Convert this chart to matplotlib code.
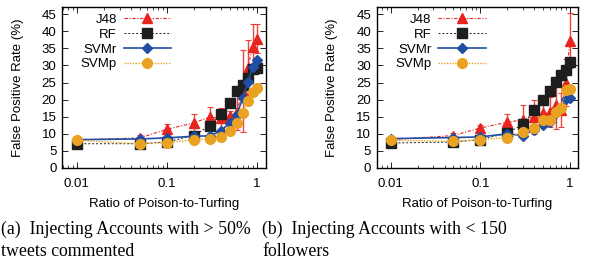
import matplotlib
matplotlib.use("Agg")
import matplotlib.pyplot as plt
from matplotlib.ticker import NullFormatter, LogLocator

plt.rcParams['font.family'] = ['Liberation Sans', 'DejaVu Sans']

ratios = [0.01, 0.05, 0.1, 0.2, 0.3, 0.4, 0.5, 0.6, 0.7, 0.8, 0.9, 1.0]

# Panel (a): injecting accounts with > 50% tweets commented
a_j48 = [8.2, 8.8, 11.3, 13.2, 14.9, 14.5, 15.2, 16.5, 22.5, 29.3, 35.5, 37.8]
a_j48_err = [0.5, 1.0, 1.5, 2.7, 2.8, 3.0, 1.5, 5.5, 12.0, 8.0, 6.5, 4.2]
a_rf = [7.1, 7.1, 7.6, 9.5, 12.3, 15.7, 18.9, 22.5, 24.3, 26.4, 28.9, 29.2]
a_svmr = [8.3, 8.5, 8.8, 9.3, 9.4, 10.8, 13.2, 15.4, 20.5, 25.2, 29.5, 31.5]
a_svmp = [8.1, 7.1, 7.4, 8.3, 8.6, 9.1, 10.8, 13.1, 16.2, 19.5, 22.2, 23.4]

# Panel (b): injecting accounts with < 150 followers
b_j48 = [8.3, 9.5, 11.7, 13.4, 14.1, 15.0, 16.1, 16.4, 18.3, 17.0, 25.0, 37.2]
b_j48_err = [0.5, 0.8, 1.0, 2.5, 4.3, 5.0, 3.0, 4.5, 7.0, 5.0, 6.8, 8.0]
b_rf = [7.3, 7.6, 8.3, 10.2, 12.8, 17.0, 19.8, 22.5, 25.3, 27.1, 28.7, 31.0]
b_svmr = [8.6, 8.9, 9.1, 10.0, 9.5, 11.2, 12.5, 13.6, 16.1, 17.6, 20.3, 20.4]
b_svmp = [8.1, 7.8, 8.3, 8.9, 10.5, 11.7, 13.9, 14.1, 16.4, 17.6, 22.7, 23.2]

labels = ['J48', 'RF', 'SVMr', 'SVMp']
yticks = [0, 5, 10, 15, 20, 25, 30, 35, 40, 45]
xticks = [0.01, 0.1, 1]
xticklabels = ['0.01', '0.1', '1']
captions = [('(a)  Injecting Accounts with > 50%', 'tweets commented'),
            ('(b)  Injecting Accounts with < 150', 'followers')]

RED = '#e8241f'
BLACK = '#1e1e1e'
BLUE = '#1f4ea3'
ORANGE = '#e9a222'
FS = 9.5

fig = plt.figure(figsize=(6.11, 2.71), dpi=100)
axes_pos = [[62/611, 1-168/271, 204/611, 161/271],
            [376.7/611, 1-168/271, 201.3/611, 161/271]]
xlims = [(0.00687, 1.27), (0.00698, 1.23)]
data = [(a_j48, a_j48_err, a_rf, a_svmr, a_svmp),
        (b_j48, b_j48_err, b_rf, b_svmr, b_svmp)]
cap_x = [0.001, 262/611]

for i in range(2):
    ax = fig.add_axes(axes_pos[i])
    j48, j48e, rf, svmr, svmp = data[i]
    ax.errorbar(ratios, j48, yerr=j48e, fmt='none', ecolor=RED, elinewidth=1.0,
                capsize=2, capthick=0.8, alpha=0.85, zorder=2)
    l1, = ax.plot(ratios, j48, color=RED, linestyle=(0, (3, 1.5, 1, 1.5)), linewidth=0.8,
                  marker='^', markersize=6.5, label=labels[0], zorder=3)
    l2, = ax.plot(ratios, rf, color=BLACK, linestyle=(0, (2, 2)), linewidth=0.7,
                  marker='s', markersize=6.5, label=labels[1], zorder=4)
    l3, = ax.plot(ratios, svmr, color=BLUE, linestyle='-', linewidth=1.2,
                  marker='D', markersize=5.0, label=labels[2], zorder=5)
    l4, = ax.plot(ratios, svmp, color=ORANGE, linestyle=(0, (1, 1)), linewidth=1.0,
                  marker='o', markersize=7.0, label=labels[3], zorder=6)
    ax.set_xscale('log')
    ax.set_xlim(*xlims[i])
    ax.set_ylim(0, 47.1)
    ax.set_yticks(yticks)
    ax.set_xticks(xticks)
    ax.set_xticklabels(xticklabels)
    ax.xaxis.set_minor_locator(LogLocator(base=10, subs=range(2, 10)))
    ax.xaxis.set_minor_formatter(NullFormatter())
    ax.tick_params(which='both', direction='in', top=True, right=True,
                   labelsize=FS)
    ax.tick_params(axis='y', pad=4)
    ax.tick_params(axis='x', pad=7)
    ax.tick_params(which='major', length=4, width=0.6)
    ax.tick_params(which='minor', length=2, width=0.5)
    for s in ax.spines.values():
        s.set_linewidth(1.0)
    ax.set_ylabel('False Positive Rate (%)', fontsize=FS, labelpad=13)
    ax.set_xlabel('Ratio of Poison-to-Turfing', fontsize=FS, labelpad=6)
    leg = ax.legend(handles=[l1, l2, l3, l4], loc='upper left', markerfirst=False,
                    frameon=False, fontsize=FS, handlelength=3.6, handletextpad=0.5,
                    labelspacing=0.2, borderaxespad=0.1, bbox_to_anchor=(0.06, 1.0))
    for k, line in enumerate(captions[i]):
        fig.text(cap_x[i], 1 - (234 + 22 * k) / 271, line,
                 fontsize=12.8, family=['Liberation Serif', 'DejaVu Serif'],
                 va='baseline', ha='left')

fig.savefig('out.png', dpi=100)
